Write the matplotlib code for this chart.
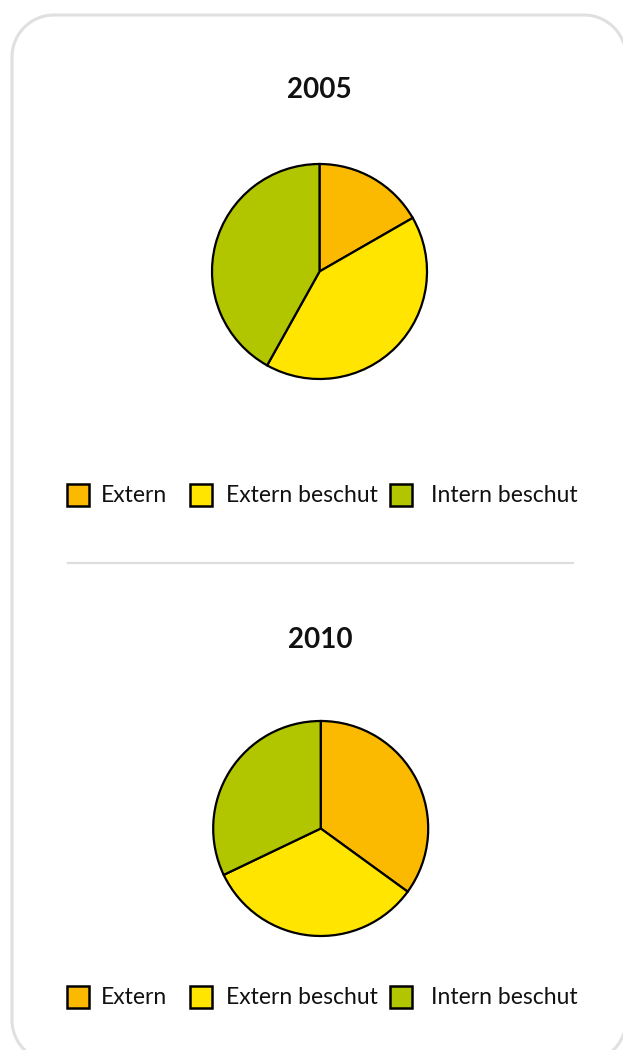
import matplotlib
matplotlib.use("Agg")
import numpy as np
import matplotlib.pyplot as plt
from matplotlib.patches import Rectangle, Polygon

W, H = 623, 1050
DPI = 100

years = ["2005", "2010"]
categories = ["Extern", "Extern beschut", "Intern beschut"]
values_2005 = [16.7, 41.4, 41.9]
values_2010 = [35.0, 32.9, 32.1]
colors = ["#FBBA00", "#FFE500", "#B2C600"]

plt.rcParams['font.family'] = ['Lato', 'DejaVu Sans']

fig = plt.figure(figsize=(W / DPI, H / DPI), dpi=DPI)
fig.patch.set_facecolor("white")

# background axes in pixel coordinates
bg = fig.add_axes([0, 0, 1, 1])
bg.set_xlim(0, W)
bg.set_ylim(H, 0)
bg.axis("off")

def rounded_rect(x0, y0, x1, y1, r, n=30):
    pts = []
    corners = [((x1 - r, y0 + r), -90, 0), ((x1 - r, y1 - r), 0, 90),
               ((x0 + r, y1 - r), 90, 180), ((x0 + r, y0 + r), 180, 270)]
    for (cx, cy), a0, a1 in corners:
        t = np.radians(np.linspace(a0, a1, n))
        pts.extend(zip(cx + r * np.cos(t), cy + r * np.sin(t)))
    return np.array(pts)

bg.add_patch(Polygon(rounded_rect(12, 15, 626, 1062, 42), closed=True, fill=False,
                     edgecolor="#e0e0e0", linewidth=2.2, clip_on=False,
                     joinstyle="round"))
bg.plot([68, 573], [563, 563], color="#dddddd", linewidth=1.6)

def draw_pie(values, cx, cy, r, title, title_y, legend_y):
    s = r * 1.2
    ax = fig.add_axes([(cx - s) / W, 1 - (cy + s) / H, 2 * s / W, 2 * s / H])
    ax.pie(values, colors=colors, startangle=90, counterclock=False, radius=1,
           wedgeprops=dict(edgecolor="black", linewidth=1.6))
    ax.set_xlim(-1.2, 1.2)
    ax.set_ylim(-1.2, 1.2)
    ax.set_aspect("equal")
    ax.axis("off")
    bg.text(cx, title_y, title, ha="center", va="center",
            fontsize=20, fontweight="bold", color="#111111")
    sq_x = [67, 190, 390]
    tx_x = [101, 226, 431]
    sq = 22
    for i, cat in enumerate(categories):
        bg.add_patch(Rectangle((sq_x[i], legend_y - sq / 2), sq, sq,
                               facecolor=colors[i], edgecolor="black", linewidth=1.8))
        bg.text(tx_x[i], legend_y + 1, cat, ha="left", va="center",
                fontsize=16.5, color="#111111")

draw_pie(values_2005, 319.5, 271.5, 107.5, years[0], 90, 495)
draw_pie(values_2010, 320.7, 828.5, 107.5, years[1], 640, 997)

fig.savefig("out.png", dpi=DPI)
